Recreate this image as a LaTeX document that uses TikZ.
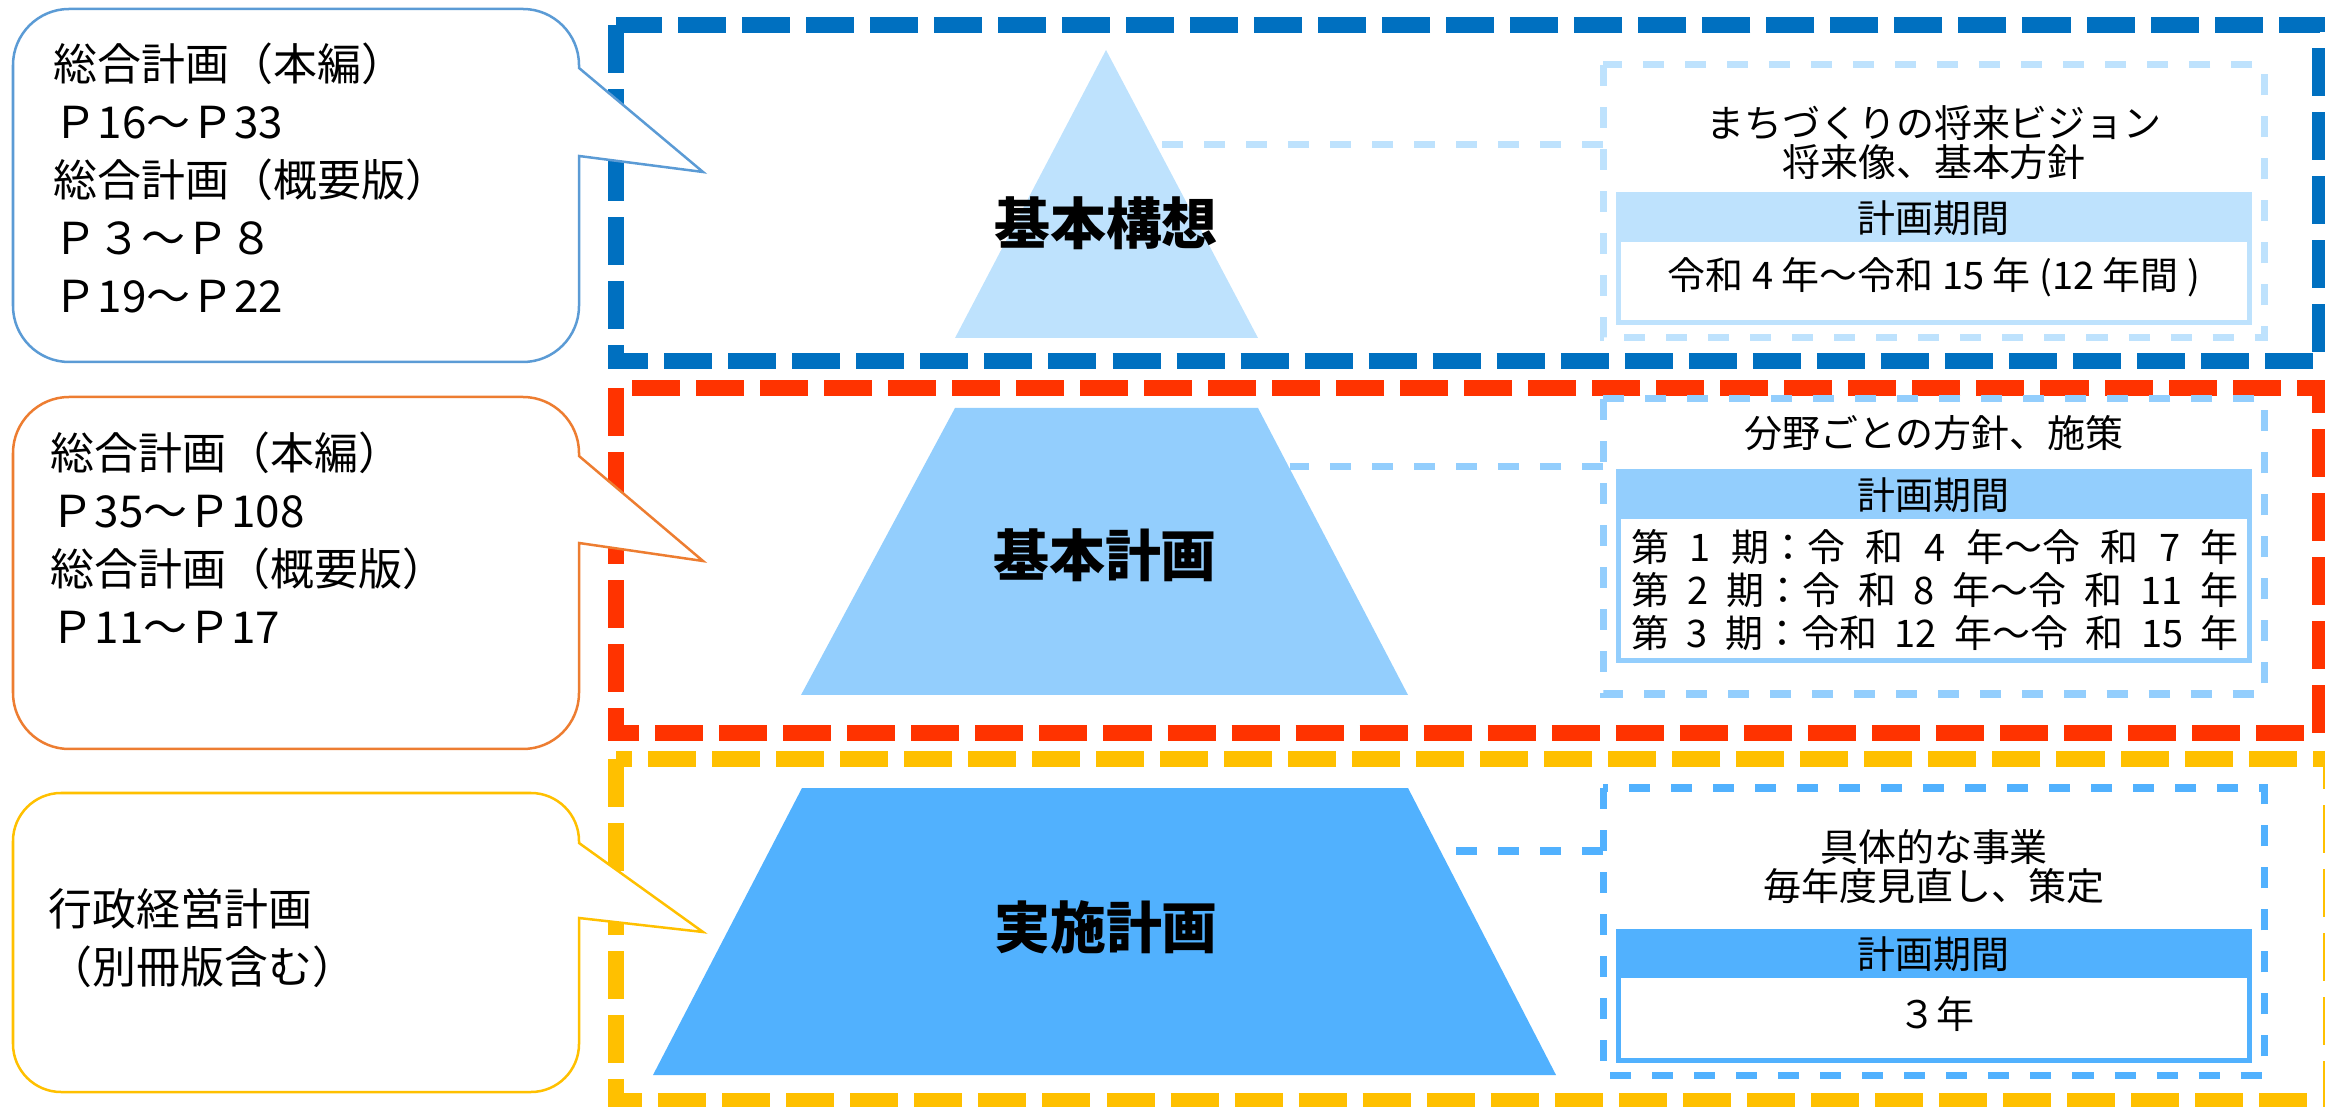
\documentclass[tikz,border=0pt]{standalone}
\usepackage{fontspec}
\newfontfamily\jp{Noto Sans CJK JP}

\definecolor{frameblue}{HTML}{0070C0}
\definecolor{framered}{HTML}{FF3300}
\definecolor{frameyellow}{HTML}{FFC000}
\definecolor{tierone}{HTML}{BEE2FD}
\definecolor{tiertwo}{HTML}{93CEFD}
\definecolor{tierthree}{HTML}{51B1FE}
\definecolor{noteblue}{HTML}{5B9BD5}
\definecolor{noteorange}{HTML}{ED7D31}
\definecolor{noteyellow}{HTML}{FFC000}

% colour, top, bottom, pointer from, tip, pointer back, corner radius
\newcommand{\callout}[7]{%
  \draw [bubble, draw=#1] (579,#6) -- (579,#3-#7)
    .. controls (579,#3-0.45*#7) and (579-0.45*#7,#3) .. (579-#7,#3) -- (13+#7,#3)
    .. controls (13+0.45*#7,#3) and (13,#3-0.45*#7) .. (13,#3-#7) -- (13,#2+#7)
    .. controls (13,#2+0.45*#7) and (13+0.45*#7,#2) .. (13+#7,#2) -- (579-#7,#2)
    .. controls (579-0.45*#7,#2) and (579,#2+0.45*#7) .. (579,#2+#7) -- (579,#4) -- (703,#5) -- cycle;}

\begin{document}
\begin{tikzpicture}[x=0.01cm, y=-0.01cm,
    frame/.style={line width=0.16cm, dash pattern=on 0.48cm off 0.16cm},
    planbox/.style={line width=0.07cm, dash pattern=on 0.21cm off 0.21cm},
    link/.style={line width=0.07cm, dash pattern=on 0.21cm off 0.21cm},
    termbox/.style={line width=0.05cm},
    bubble/.style={fill=white, line width=0.025cm},
    notetext/.style={font=\jp\fontsize{12.5}{16.5}\selectfont, align=left, anchor=north west, inner sep=0pt},
    boxtext/.style={font=\jp\fontsize{10.8}{11.1}\selectfont, align=center, inner sep=0pt},
    title/.style={font=\jp\bfseries\fontsize{15.9}{19}\selectfont, inner sep=0pt}]
  \useasboundingbox (0,0) rectangle (2325,1107);
  \clip (0,0) rectangle (2325,1107);

  \draw [frame, frameblue] (616,25) rectangle (2320,361);
  \draw [frame, framered] (616,388) rectangle (2320,733);
  \draw [frame, frameyellow] (616,759) rectangle (2331,1101);

  \callout{noteblue}{9}{362}{68}{172}{156}{56}
  \callout{noteorange}{397}{749}{456}{561}{543}{56}
  \callout{noteyellow}{793}{1092}{843}{932}{918}{48}
  \node [notetext] (note1) at (53,42) {総合計画（本編）\\Ｐ16～Ｐ33\\総合計画（概要版）\\Ｐ３～Ｐ８\\Ｐ19～Ｐ22};
  \node [notetext] (note2) at (50,431) {総合計画（本編）\\Ｐ35～Ｐ108\\総合計画（概要版）\\Ｐ11～Ｐ17};
  \node [notetext] (note3) at (48,888) {行政経営計画\\（別冊版含む）};

  \coordinate (vision-in) at (1603,145);
  \coordinate (kousou-side) at (1156,145);
  \coordinate (policy-in) at (1603,467);
  \coordinate (keikaku-side) at (1290,467);
  \coordinate (project-in) at (1603,851);
  \coordinate (jisshi-side) at (1441,851);
  \draw [link, tierone] (vision-in) -- (kousou-side);
  \draw [link, tiertwo] (policy-in) -- (keikaku-side);
  \draw [link, tierthree] (project-in) -- (jisshi-side);

  \fill [tierone] (1106,50) -- (1258,338) -- (955,338) -- cycle;
  \fill [tiertwo] (955,408) -- (1258,408) -- (1408,695) -- (801,695) -- cycle;
  \fill [tierthree] (802,788) -- (1408,788) -- (1556,1075) -- (653,1075) -- cycle;
  \node [title] (kousou) at (1106,223) {基本構想};
  \node [title] (keikaku) at (1105,555) {基本計画};
  \node [title] (jisshi) at (1106,927) {実施計画};

  \draw [planbox, tierone] (1603,65) rectangle (2264,338);
  \fill [tierone] (1618,195) rectangle (2249,242);
  \draw [termbox, tierone] (1618,195) rectangle (2249,323);
  \node [boxtext, anchor=north] (vision) at (1934,105) {まちづくりの将来ビジョン\\将来像、基本方針};
  \node [boxtext] (head1) at (1933,218) {計画期間};
  \node [boxtext] (term1) at (1934,277) {令和 4 年～令和 15 年 (12 年間 )};

  \draw [planbox, tiertwo] (1603,399) rectangle (2264,694);
  \fill [tiertwo] (1618,472) rectangle (2249,519);
  \draw [termbox, tiertwo] (1618,472) rectangle (2249,661);
  \node [boxtext] (policy) at (1934,433) {分野ごとの方針、施策};
  \node [boxtext] (head2) at (1933,495) {計画期間};
  \node [boxtext] (phase1) at (1935,547) {\makebox[6.07cm][s]{第 1 期：令 和 4 年～令 和 7 年}};
  \node [boxtext] (phase2) at (1935,590) {\makebox[6.07cm][s]{第 2 期：令 和 8 年～令 和 11 年}};
  \node [boxtext] (phase3) at (1935,633) {\makebox[6.07cm][s]{第 3 期：令和 12 年～令 和 15 年}};

  \draw [planbox, tierthree] (1603,788) rectangle (2264,1075);
  \fill [tierthree] (1618,931) rectangle (2249,978);
  \draw [termbox, tierthree] (1618,931) rectangle (2249,1060);
  \node [boxtext, anchor=north] (project) at (1934,829) {具体的な事業\\毎年度見直し、策定};
  \node [boxtext] (head3) at (1933,954) {計画期間};
  \node [boxtext] (term3) at (1936,1014) {３年};
\end{tikzpicture}
\end{document}
